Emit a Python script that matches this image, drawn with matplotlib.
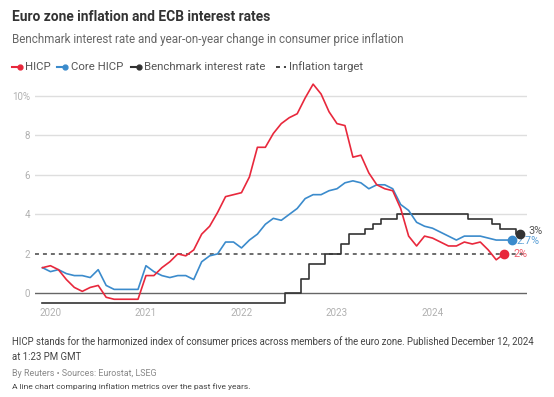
import numpy as np
import matplotlib.pyplot as plt
from matplotlib.lines import Line2D

# monthly values, Dec 2019 .. Dec 2024 (index 0 = Dec 2019)
hicp = [1.3, 1.4, 1.2, 0.7, 0.3, 0.1, 0.3, 0.4, -0.2, -0.3, -0.3, -0.3, -0.3,
        0.9, 0.9, 1.3, 1.6, 2.0, 1.9, 2.2, 3.0, 3.4, 4.1, 4.9, 5.0,
        5.1, 5.9, 7.4, 7.4, 8.1, 8.6, 8.9, 9.1, 9.9, 10.6, 10.1, 9.2,
        8.6, 8.5, 6.9, 7.0, 6.1, 5.5, 5.3, 5.2, 4.3, 2.9, 2.4, 2.9,
        2.8, 2.6, 2.4, 2.4, 2.6, 2.5, 2.6, 2.2, 1.7, 2.0]
core = [1.3, 1.1, 1.2, 1.0, 0.9, 0.9, 0.8, 1.2, 0.4, 0.2, 0.2, 0.2, 0.2,
        1.4, 1.1, 0.9, 0.8, 0.9, 0.9, 0.7, 1.6, 1.9, 2.0, 2.6, 2.6,
        2.3, 2.7, 3.0, 3.5, 3.8, 3.7, 4.0, 4.3, 4.8, 5.0, 5.0, 5.2,
        5.3, 5.6, 5.7, 5.6, 5.3, 5.5, 5.5, 5.3, 4.5, 4.2, 3.6, 3.4,
        3.3, 3.1, 2.9, 2.7, 2.9, 2.9, 2.9, 2.8, 2.7, 2.7, 2.7]
rate = [-0.5] * 31 + [0.0, 0.0, 0.75, 1.5, 1.5, 2.0,
        2.0, 2.5, 3.0, 3.0, 3.25, 3.5, 3.75, 3.75, 4.0, 4.0, 4.0, 4.0,
        4.0, 4.0, 4.0, 4.0, 4.0, 3.75, 3.75, 3.75, 3.5, 3.25, 3.25, 3.0]
target = 2.0
year_labels = ["2020", "2021", "2022", "2023", "2024"]
year_pos = [1, 13, 25, 37, 49]
yticks = [0, 2, 4, 6, 8, 10]
ytick_labels = ["0", "2", "4", "6", "8", "10%"]

RED = "#e8283c"
BLUE = "#3b8bcc"
DARK = "#333333"

plt.rcParams['font.family'] = ['Roboto', 'DejaVu Sans']

W, H = 554, 397
fig = plt.figure(figsize=(W / 100, H / 100), dpi=100)

# main axes, placed in pixel terms
x0, x1 = 35, 527
y_bot, y_top = 311.1, 80.2
ax = fig.add_axes([x0 / W, 1 - y_bot / H, (x1 - x0) / W, (y_bot - y_top) / H])
ax.set_xlim(-0.94, 60.87)
ax.set_ylim(-0.9, 10.8)
for s in ax.spines.values():
    s.set_visible(False)

for y in [4, 6, 8, 10]:
    ax.axhline(y, color="#dedede", lw=1.0, zorder=1)
ax.axhline(0, color="#666666", lw=1.0, zorder=1)
ax.axhline(target, color="#444444", lw=1.1, ls=(0, (2.6, 2.6)), zorder=2)

xh = np.arange(len(hicp))
xc = np.arange(len(core))
xr = np.arange(len(rate))
ax.plot(xr, rate, color=DARK, lw=1.2, drawstyle="steps-mid", zorder=3, clip_on=False)
ax.plot(xc, core, color=BLUE, lw=1.2, zorder=4, clip_on=False)
ax.plot(xh, hicp, color=RED, lw=1.2, zorder=5, clip_on=False)

ax.plot(xr[-1], rate[-1], "o", color=DARK, ms=6, zorder=6, clip_on=False)
ax.plot(xc[-1], core[-1], "o", color=BLUE, ms=6, zorder=6, clip_on=False)
ax.plot(xh[-1], hicp[-1], "o", color=RED, ms=6, zorder=6, clip_on=False)

ax.annotate(f"{rate[-1]:g}%", (xr[-1], rate[-1]), xytext=(6, 2.6), textcoords="offset points",
            va="center", ha="left", fontsize=7.8, color="#555555", annotation_clip=False)
ax.annotate(f"{core[-1]:g}%", (xc[-1], core[-1]), xytext=(3.4, -0.5), textcoords="offset points",
            va="center", ha="left", fontsize=7.8, color="#5a9fd6", annotation_clip=False)
ax.annotate(f"{hicp[-1]:g}%", (xh[-1], hicp[-1]), xytext=(7, 0), textcoords="offset points",
            va="center", ha="left", fontsize=7.8, color="#f0606f", annotation_clip=False)

ax.set_yticks(yticks)
ax.set_yticklabels(ytick_labels)
ax.set_xticks([])
ax.tick_params(axis="y", length=0, pad=3.6, labelsize=7, labelcolor="#b0b0b0")
for p, lab in zip(year_pos, year_labels):
    ax.text(p, -1.0, lab, ha="center", va="center", fontsize=7, color="#b0b0b0", clip_on=False)

# overlay in pixel coords for titles, legend and notes
ov = fig.add_axes([0, 0, 1, 1], zorder=-1)
ov.set_xlim(0, W)
ov.set_ylim(H, 0)
ov.axis("off")

ov.text(12, 17, "Euro zone inflation and ECB interest rates", fontsize=9.9, fontweight="bold",
        color="#333333", va="center", ha="left")
ov.text(12, 39, "Benchmark interest rate and year-on-year change in consumer price inflation",
        fontsize=8.4, color="#666666", va="center", ha="left")

ly = 67
ov.add_line(Line2D([12, 20], [ly, ly], color=RED, lw=1.5))
ov.plot([20], [ly], "o", color=RED, ms=3.5)
ov.text(25, ly, "HICP", fontsize=8.2, color="#555555", va="center")
ov.add_line(Line2D([57, 65], [ly, ly], color=BLUE, lw=1.5))
ov.plot([65], [ly], "o", color=BLUE, ms=3.5)
ov.text(71, ly, "Core HICP", fontsize=8.2, color="#555555", va="center")
ov.add_line(Line2D([131, 139], [ly, ly], color=DARK, lw=1.5))
ov.plot([139], [ly], "o", color=DARK, ms=3.5)
ov.text(144, ly, "Benchmark interest rate", fontsize=8.2, color="#555555", va="center")
ov.add_line(Line2D([276, 286], [ly, ly], color=DARK, lw=1.3, ls=(0, (2.2, 2.2))))
ov.text(289, ly, "Inflation target", fontsize=8.2, color="#555555", va="center")

ov.text(12, 342, "HICP stands for the harmonized index of consumer prices across members of the euro zone. "
        "Published December 12, 2024", fontsize=6.95, color="#444444", va="center")
ov.text(12, 357, "at 1:23 PM GMT", fontsize=6.95, color="#444444", va="center")
ov.text(12, 373, "By Reuters \u2022 Sources: Eurostat, LSEG", fontsize=6.4, color="#888888", va="center")
ov.text(12, 387, "A line chart comparing inflation metrics over the past five years.", fontsize=6.0,
        color="#444444", va="center")

fig.savefig("out.png", dpi=100)
